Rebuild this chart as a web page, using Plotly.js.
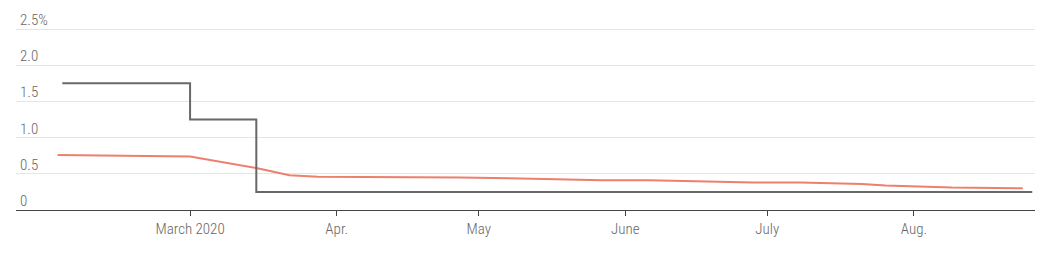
<!DOCTYPE html>
<html>
<head>
<meta charset="utf-8">
<script src="https://cdn.plot.ly/plotly-3.0.1.min.js"></script>
<style>html,body{margin:0;padding:0;background:#fff;}#chart{width:1045px;height:259px;}</style>
</head>
<body>
<div id="chart"></div>
<script>
const rateDates = ["2020-02-03", "2020-03-01", "2020-03-15", "2020-08-26"];
const rateValues = [1.75, 1.25, 0.25, 0.25];

const yieldDates = ["2020-02-02", "2020-02-20", "2020-03-01", "2020-03-15", "2020-03-22", "2020-03-28",
  "2020-04-20", "2020-04-27", "2020-05-15", "2020-05-27", "2020-06-06", "2020-06-13", "2020-06-28",
  "2020-07-08", "2020-07-21", "2020-07-26", "2020-08-09", "2020-08-24"];
const yieldValues = [0.76, 0.75, 0.74, 0.58, 0.48, 0.46,
  0.46, 0.45, 0.43, 0.41, 0.41, 0.40, 0.38,
  0.38, 0.36, 0.34, 0.31, 0.30];

const xTickVals = ["2020-03-01", "2020-04-01", "2020-05-01", "2020-06-01", "2020-07-01", "2020-08-01"];
const xTickText = ["March 2020", "Apr.", "May", "June", "July", "Aug."];
const yTickVals = [0, 0.5, 1.0, 1.5, 2.0, 2.5];
const yTickText = ["0", "0.5", "1.0", "1.5", "2.0", "2.5%"];

const font = "'Roboto Condensed', Roboto, 'DejaVu Sans Condensed', sans-serif";
const tickFont = {family: font, size: 15, color: "#666", stretch: "condensed", weight: 300};

const traces = [
  {x: yieldDates, y: yieldValues, type: "scatter", mode: "lines",
   line: {color: "#EE7F6E", width: 2}, hoverinfo: "skip"},
  {x: rateDates, y: rateValues, type: "scatter", mode: "lines",
   line: {color: "#686868", width: 2, shape: "hv"}, hoverinfo: "skip"}
];

const annotations = yTickVals.map((v, i) => ({
  x: 0, xref: "paper", xanchor: "left", xshift: 2,
  y: v, yref: "y", yanchor: "bottom", yshift: -2,
  text: yTickText[i], showarrow: false, font: tickFont
}));

const layout = {
  width: 1045, height: 259,
  margin: {l: 16, r: 10, t: 28, b: 49},
  paper_bgcolor: "#fff", plot_bgcolor: "#fff",
  showlegend: false,
  font: tickFont,
  annotations: annotations,
  xaxis: {
    type: "date",
    range: ["2020-01-24 05:00", "2020-08-26 14:00"],
    tickvals: xTickVals, ticktext: xTickText,
    showgrid: false, zeroline: false,
    showline: true, linecolor: "#444", linewidth: 1,
    ticks: "outside", ticklen: 5, tickcolor: "#444", tickwidth: 1,
    ticklabelstandoff: 0,
    tickfont: tickFont
  },
  yaxis: {
    range: [0, 2.515],
    tickvals: yTickVals, ticktext: yTickText,
    showgrid: true, gridcolor: "#e5e5e5", gridwidth: 1,
    zeroline: false, showline: false, ticks: "",
    showticklabels: false
  }
};

Plotly.newPlot("chart", traces, layout, {staticPlot: true, displayModeBar: false});
</script>
</body>
</html>
